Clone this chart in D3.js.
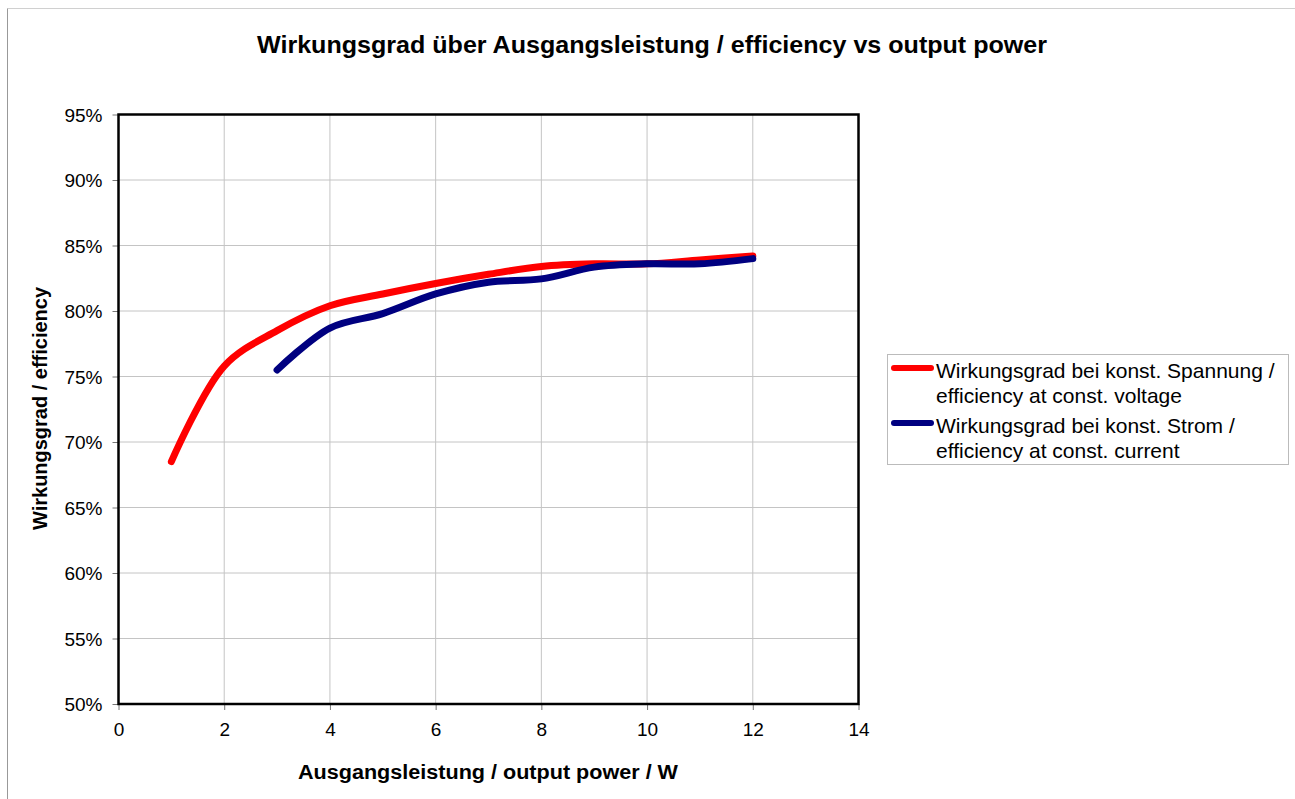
<!DOCTYPE html>
<html>
<head>
<meta charset="utf-8">
<script src="https://cdn.jsdelivr.net/npm/d3@7"></script>
<style>
  body { margin: 0; background: #fff; }
  text { font-family: "Liberation Sans", Arial, sans-serif; fill: #000; }
</style>
</head>
<body>
<svg id="chart" width="1295" height="799"></svg>
<script>
// chart data
var powerW = [1, 2, 3, 4, 5, 6, 7, 8, 9, 10, 11, 12];
var effVoltage = [68.5, 75.8, 78.5, 80.4, 81.3, 82.1, 82.8, 83.4, 83.6, 83.6, 83.9, 84.2];
var powerI = [3, 4, 5, 6, 7, 8, 9, 10, 11, 12];
var effCurrent = [75.5, 78.7, 79.8, 81.3, 82.2, 82.45, 83.35, 83.6, 83.6, 84.0];
var xTicks = [0, 2, 4, 6, 8, 10, 12, 14];
var yTicks = [50, 55, 60, 65, 70, 75, 80, 85, 90, 95];
var seriesNames = [
    ["Wirkungsgrad bei konst. Spannung /", "efficiency at const. voltage"],
    ["Wirkungsgrad bei konst. Strom /", "efficiency at const. current"]
];
var seriesColors = ["#ff0000", "#000080"];

var svg = d3.select("#chart");

// outer frame (only top + left visible in the original)
svg.append("line").attr("x1", 7.5).attr("x2", 1295).attr("y1", 8.5).attr("y2", 8.5)
    .attr("stroke", "#d0d0d0").attr("stroke-width", 1);
svg.append("line").attr("x1", 7.5).attr("x2", 7.5).attr("y1", 8.5).attr("y2", 799)
    .attr("stroke", "#999").attr("stroke-width", 1);

var plotL = 118.5, plotR = 858.5, plotT = 114.5, plotB = 704;

var x = d3.scaleLinear().domain([0, 14]).range([plotL, plotR]);
var y = d3.scaleLinear().domain([50, 95]).range([plotB, plotT]);

// gridlines
var grid = svg.append("g").attr("id", "grid");
grid.selectAll("line.v")
    .data(xTicks.slice(1, -1))
    .enter()
    .append("line")
    .attr("class", "v")
    .attr("x1", function(d) { return x(d); })
    .attr("x2", function(d) { return x(d); })
    .attr("y1", plotT)
    .attr("y2", plotB)
    .attr("stroke", "#c4c4c4")
    .attr("stroke-width", 1);
grid.selectAll("line.h")
    .data(yTicks.slice(1, -1))
    .enter()
    .append("line")
    .attr("class", "h")
    .attr("x1", plotL)
    .attr("x2", plotR)
    .attr("y1", function(d) { return y(d); })
    .attr("y2", function(d) { return y(d); })
    .attr("stroke", "#c4c4c4")
    .attr("stroke-width", 1);

// axes
var xAxis = d3.axisBottom(x).tickValues(xTicks).tickSize(6).tickPadding(12);
var yAxis = d3.axisLeft(y).tickValues(yTicks).tickSize(6).tickPadding(10)
    .tickFormat(function(d) { return d + "%"; });

var gx = svg.append("g").attr("transform", "translate(0," + plotB + ")").call(xAxis);
var gy = svg.append("g").attr("transform", "translate(" + plotL + ",0)").call(yAxis);
[gx, gy].forEach(function(g) {
    g.select(".domain").remove();
    g.selectAll(".tick line").attr("stroke", "#777").attr("stroke-width", 1);
    g.selectAll(".tick text")
        .style("font-family", "'Liberation Sans', Arial, sans-serif")
        .style("font-size", "19px")
        .attr("fill", "#000");
});
gx.selectAll(".tick text").attr("dy", "0.75em");
gy.selectAll(".tick text").attr("dy", "0.35em");

// plot border
svg.append("rect")
    .attr("x", plotL).attr("y", plotT)
    .attr("width", plotR - plotL).attr("height", plotB - plotT)
    .attr("fill", "none").attr("stroke", "#000").attr("stroke-width", 2.5);

// lines
var line = d3.line()
    .x(function(d) { return x(d[0]); })
    .y(function(d) { return y(d[1]); })
    .curve(d3.curveCatmullRom.alpha(0.5));

var series = [
    d3.zip(powerW, effVoltage),
    d3.zip(powerI, effCurrent)
];

svg.append("g").attr("id", "lines")
    .selectAll("path")
    .data(series)
    .enter()
    .append("path")
    .attr("d", line)
    .attr("fill", "none")
    .attr("stroke", function(d, i) { return seriesColors[i]; })
    .attr("stroke-width", 7)
    .attr("stroke-linecap", "round")
    .attr("stroke-linejoin", "round");

// titles
svg.append("text")
    .attr("x", 257).attr("y", 53)
    .attr("textLength", 790).attr("lengthAdjust", "spacingAndGlyphs")
    .style("font-size", "23px").style("font-weight", "bold")
    .text("Wirkungsgrad über Ausgangsleistung / efficiency vs output power");

svg.append("text")
    .attr("x", 298).attr("y", 779)
    .attr("textLength", 380).attr("lengthAdjust", "spacingAndGlyphs")
    .style("font-size", "20px").style("font-weight", "bold")
    .text("Ausgangsleistung / output power / W");

svg.append("text")
    .attr("transform", "translate(47,530) rotate(-90)")
    .attr("textLength", 243).attr("lengthAdjust", "spacingAndGlyphs")
    .style("font-size", "20px").style("font-weight", "bold")
    .text("Wirkungsgrad / efficiency");

// legend
var legend = svg.append("g").attr("id", "legend");
legend.append("rect")
    .attr("x", 887.5).attr("y", 354.5)
    .attr("width", 401).attr("height", 110)
    .attr("fill", "#fff").attr("stroke", "#bbb").attr("stroke-width", 1);

var items = legend.selectAll("g.item")
    .data(seriesNames)
    .enter()
    .append("g")
    .attr("class", "item")
    .attr("transform", function(d, i) { return "translate(0," + (i * 55) + ")"; });

items.append("line")
    .attr("x1", 894).attr("x2", 931)
    .attr("y1", 368).attr("y2", 368)
    .attr("stroke", function(d, i) { return seriesColors[i]; })
    .attr("stroke-width", 6)
    .attr("stroke-linecap", "round");

items.selectAll("text")
    .data(function(d) { return d; })
    .enter()
    .append("text")
    .attr("x", 936)
    .attr("y", function(d, j) { return 378 + j * 25; })
    .style("font-size", "21px")
    .text(function(d) { return d; });
</script>
</body>
</html>
